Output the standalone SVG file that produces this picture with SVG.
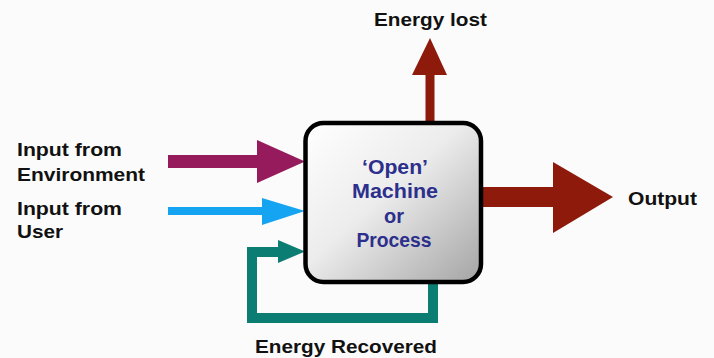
<svg xmlns="http://www.w3.org/2000/svg" width="714" height="358" viewBox="0 0 714 358">
<style>
.lbl{font-family:"Liberation Sans",Arial,sans-serif;font-weight:bold;font-size:19px;fill:#111}
.ctr{font-family:"Liberation Sans",Arial,sans-serif;font-weight:bold;font-size:20px;fill:#2c2f8c;text-anchor:middle}
</style>
<defs>
<linearGradient id="boxg" x1="0" y1="0" x2="1" y2="1">
<stop offset="0" stop-color="#ffffff"/>
<stop offset="0.45" stop-color="#ececec"/>
<stop offset="1" stop-color="#a4a4a4"/>
</linearGradient>
</defs>
<rect width="714" height="358" fill="#fbfbfb"/>
<g id="connectors">
<g id="env-arrow" fill="#951b5c">
<rect x="168" y="155" width="90" height="13"/>
<polygon points="257,140 305,161.5 257,183"/>
</g>
<g id="user-arrow" fill="#15a4f2">
<rect x="168" y="207" width="95" height="8"/>
<polygon points="262,198 305,211 262,225"/>
</g>
<g id="recovered-arrow">
<path d="M433,283 V318 H252 V252 H281" fill="none" stroke="#0b7d72" stroke-width="10"/>
<polygon points="278,240 305,251.5 278,263" fill="#0b7d72"/>
</g>
<g id="lost-arrow" fill="#8e1a0c">
<rect x="425.5" y="74" width="9" height="50"/>
<polygon points="412,75 430,38 447,75"/>
</g>
<g id="output-arrow" fill="#8e1a0c">
<rect x="480" y="187" width="74" height="20"/>
<polygon points="553,162 613,197 553,233"/>
</g>
</g>
<g id="machine">
<rect x="305.5" y="123" width="175.5" height="159" rx="18" ry="18" fill="url(#boxg)" stroke="#000" stroke-width="4.5"/>
<text class="ctr" x="395" y="174" textLength="66" lengthAdjust="spacingAndGlyphs">‘Open’</text>
<text class="ctr" x="395" y="198" textLength="86" lengthAdjust="spacingAndGlyphs">Machine</text>
<text class="ctr" x="394" y="223" textLength="20" lengthAdjust="spacingAndGlyphs">or</text>
<text class="ctr" x="394" y="247" textLength="75" lengthAdjust="spacingAndGlyphs">Process</text>
</g>
<g id="label-env">
<text class="lbl" x="17" y="156" textLength="105" lengthAdjust="spacingAndGlyphs">Input from</text>
<text class="lbl" x="17" y="181" textLength="128" lengthAdjust="spacingAndGlyphs">Environment</text>
</g>
<g id="label-user">
<text class="lbl" x="17" y="215" textLength="105" lengthAdjust="spacingAndGlyphs">Input from</text>
<text class="lbl" x="17" y="238" textLength="46" lengthAdjust="spacingAndGlyphs">User</text>
</g>
<g id="label-lost">
<text class="lbl" x="374" y="26" textLength="113" lengthAdjust="spacingAndGlyphs">Energy lost</text>
</g>
<g id="label-output">
<text class="lbl" x="628" y="205" textLength="69" lengthAdjust="spacingAndGlyphs">Output</text>
</g>
<g id="label-recovered">
<text class="lbl" x="255" y="353" textLength="182" lengthAdjust="spacingAndGlyphs">Energy Recovered</text>
</g>
</svg>
